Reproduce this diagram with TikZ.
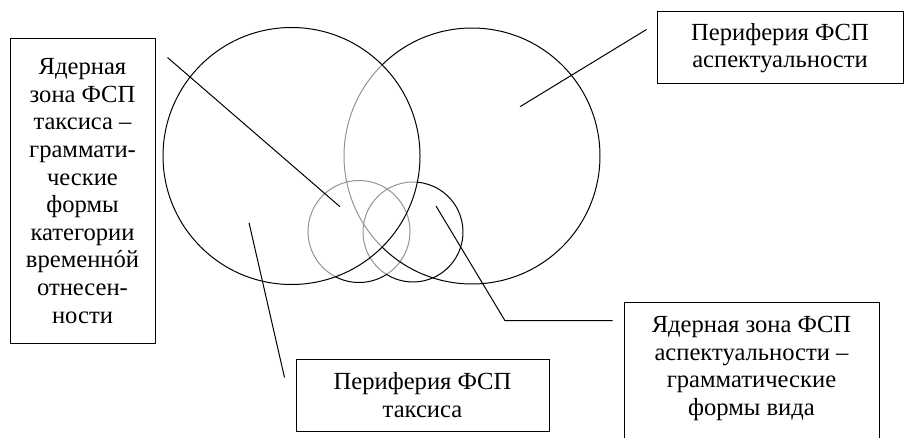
\documentclass[tikz,border=0pt]{standalone}
\usepackage{fontspec}
\setmainfont{Liberation Serif}
\usetikzlibrary{positioning}

\begin{document}
\begin{tikzpicture}[x=1pt,y=1pt,line width=1pt,
    box/.style={draw,align=center,inner sep=0pt,font=\fontsize{24.6}{27.6}\selectfont},
    faint/.style={draw=black!42}]

  \useasboundingbox (0,0) rectangle (904,437);
  \clip (0,0) rectangle (904,437);

  % centres of the zones
  \coordinate (A) at (291.5,281);
  \coordinate (B) at (472,281);
  \coordinate (C) at (359,205.5);
  \coordinate (D) at (413,205);

  % grey parts first
  \draw[faint] (B) ++(134.8:128) arc[start angle=134.8,end angle=225.2,radius=128];
  \draw[faint] (C) ++(-56.7:51) arc[start angle=-56.7,end angle=242,radius=51];
  \draw[faint] (D) ++(85.6:50) arc[start angle=85.6,end angle=238.4,radius=50];

  % black parts
  \draw (A) circle[radius=128.5];
  \draw (B) ++(225.2:128) arc[start angle=225.2,end angle=494.8,radius=128];
  \draw (C) ++(242:51) arc[start angle=242,end angle=303.3,radius=51];
  \draw (D) ++(238.4:50) arc[start angle=238.4,end angle=445.6,radius=50];

  % labels
  \node[box,minimum width=145pt,minimum height=304pt] (kt) at (82.5,246)
    {Ядерная\\зона ФСП\\таксиса –\\граммати-\\ческие\\формы\\категории\\временн\accent"00B4 ой\\отнесен-\\ности};
  \node[box,minimum width=246pt,minimum height=72pt] (pa) at (780,389)
    {Периферия ФСП\\аспектуальности};
  \node[box,minimum width=253pt,minimum height=72pt] (pt) at (422.5,42)
    {Периферия ФСП\\таксиса};
  \node[box,minimum width=255pt,inner ysep=14pt,anchor=north] (ka) at (751.5,135)
    {Ядерная зона ФСП\\аспектуальности –\\грамматические\\формы вида\\\strut\\\strut};

  % pointers
  \coordinate (ta) at (340,230.3);
  \coordinate (tp) at (249,214.3);
  \coordinate (tb) at (520,330.3);
  \coordinate (td) at (436,231);
  \coordinate (knee) at (505,116.3);

  \draw ([shift={(12pt,-19pt)}]kt.north east) -- (ta);
  \draw (tp) -- ([shift={(-11pt,-19pt)}]pt.north west);
  \draw (tb) -- ([shift={(-10pt,-18pt)}]pa.north west);
  \draw (td) -- (knee) -- ([shift={(-11pt,-18.7pt)}]ka.north west);

\end{tikzpicture}
\end{document}
